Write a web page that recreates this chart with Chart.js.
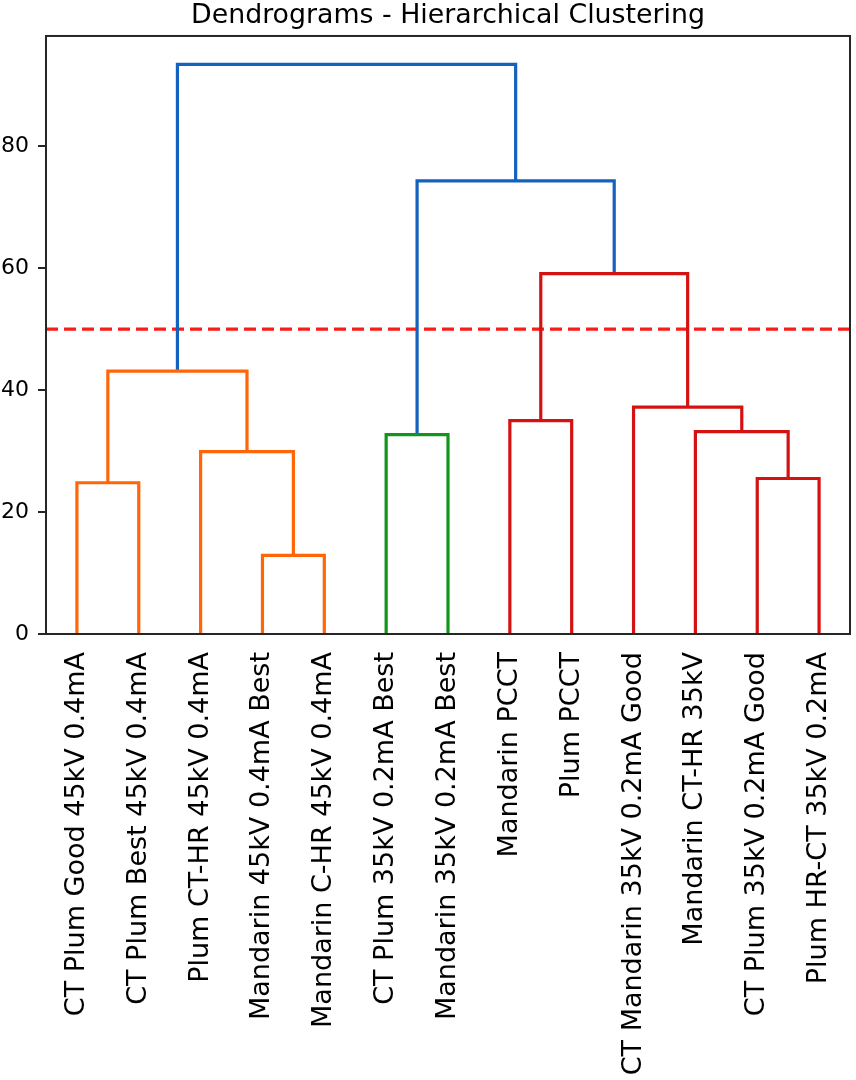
<!DOCTYPE html>
<html>
<head>
<meta charset="utf-8">
<script src="https://cdn.jsdelivr.net/npm/chart.js@4/dist/chart.umd.min.js"></script>
<style>
  html, body { margin: 0; padding: 0; background: #fff; }
  #wrap { position: relative; width: 856px; height: 1080px; }
</style>
</head>
<body>
<div id="wrap"><canvas id="c"></canvas></div>
<script>
// ---- Data ----
const leafLabels = [
  "CT Plum Good 45kV 0.4mA",
  "CT Plum Best 45kV 0.4mA",
  "Plum CT-HR 45kV 0.4mA",
  "Mandarin 45kV 0.4mA Best",
  "Mandarin C-HR 45kV 0.4mA",
  "CT Plum 35kV 0.2mA Best",
  "Mandarin 35kV 0.2mA Best",
  "Mandarin PCCT",
  "Plum PCCT",
  "CT Mandarin 35kV 0.2mA Good",
  "Mandarin CT-HR 35kV",
  "CT Plum 35kV 0.2mA Good",
  "Plum HR-CT 35kV 0.2mA"
];
// Linkage: node ids 0..12 are leaves, 13.. are merged clusters (in order)
const mergeLeft   = [0, 3, 2, 13, 5, 7, 11, 10, 9, 18, 17, 16];
const mergeRight  = [1, 4, 14, 15, 6, 8, 12, 19, 20, 21, 22, 23];
const mergeHeight = [24.8, 12.9, 29.9, 43.1, 32.7, 35.0, 25.5, 33.2, 37.2, 59.1, 74.3, 93.4];
const mergeGroup  = ["C1","C1","C1","C1","C2","C3","C3","C3","C3","C3","C0","C0"];
const threshold = 50;
const yTickValues = [0, 20, 40, 60, 80];
const titleText = "Dendrograms - Hierarchical Clustering";

// ---- Styles ----
const palette = { C0: "#1262be", C1: "#ff6608", C2: "#12961a", C3: "#d41212" };
const thresholdColor = "#ff1a1a";
const FONT = "'DejaVu Sans', 'Liberation Sans', sans-serif";

// ---- Build dendrogram geometry from the linkage ----
const nLeaves = leafLabels.length;
const leafPos = leafLabels.map((_, i) => 5 + 10 * i);
const nodeX = leafPos.slice();
const nodeY = leafPos.map(() => 0);
const datasets = [];
mergeLeft.forEach((a, k) => {
  const b = mergeRight[k];
  const h = mergeHeight[k];
  datasets.push({
    data: [
      { x: nodeX[a], y: nodeY[a] },
      { x: nodeX[a], y: h },
      { x: nodeX[b], y: h },
      { x: nodeX[b], y: nodeY[b] }
    ],
    borderColor: palette[mergeGroup[k]],
    borderWidth: 3.2,
    pointRadius: 0,
    tension: 0,
    borderJoinStyle: "miter",
    borderCapStyle: "butt",
    fill: false,
    clip: 3
  });
  nodeX.push((nodeX[a] + nodeX[b]) / 2);
  nodeY.push(h);
});
const xMax = 10 * nLeaves;
const yMax = Math.max(...mergeHeight) * 1.05;

datasets.push({
  data: [{ x: 0, y: threshold }, { x: xMax, y: threshold }],
  borderColor: thresholdColor,
  borderWidth: 3.2,
  borderDash: [12, 6],
  pointRadius: 0,
  fill: false
});

const frame = {
  id: "frame",
  afterDatasetsDraw(chart) {
    const { ctx, chartArea: a } = chart;
    ctx.save();
    ctx.strokeStyle = "#262626";
    ctx.lineWidth = 2;
    ctx.strokeRect(a.left, a.top, a.right - a.left, a.bottom - a.top);
    ctx.restore();
  }
};

new Chart(document.getElementById("c"), {
  type: "line",
  data: { datasets },
  options: {
    responsive: true,
    maintainAspectRatio: false,
    animation: false,
    layout: { padding: { left: 0, right: 6, top: 0, bottom: 0 } },
    plugins: {
      legend: { display: false },
      tooltip: { enabled: false },
      title: {
        display: true,
        fullSize: false,
        text: titleText,
        color: "#000",
        font: { family: FONT, size: 26.8, weight: "normal", lineHeight: 1.1 },
        padding: { top: 1, bottom: 5.5 }
      }
    },
    scales: {
      x: {
        type: "linear",
        min: 0,
        max: xMax,
        afterBuildTicks: (s) => { s.ticks = leafPos.map(v => ({ value: v })); },
        afterFit: (s) => { s.height = 446; s.paddingLeft = 0; s.paddingRight = 0; },
        grid: { display: false, drawTicks: false },
        border: { display: false },
        ticks: {
          autoSkip: false,
          minRotation: 90,
          maxRotation: 90,
          padding: 18,
          color: "#000",
          font: { family: FONT, size: 27 },
          callback: (v) => leafLabels[leafPos.indexOf(v)] ?? ""
        }
      },
      y: {
        type: "linear",
        min: 0,
        max: yMax,
        afterBuildTicks: (s) => { s.ticks = yTickValues.map(v => ({ value: v })); },
        afterFit: (s) => { s.width = 46; s.paddingTop = 0; s.paddingBottom = 0; },
        grid: { display: true, drawOnChartArea: false, drawTicks: true, tickLength: 8, color: "#262626", lineWidth: 2 },
        border: { display: false },
        ticks: {
          padding: 9,
          color: "#000",
          font: { family: FONT, size: 22 }
        }
      }
    }
  },
  plugins: [frame]
});
</script>
</body>
</html>
